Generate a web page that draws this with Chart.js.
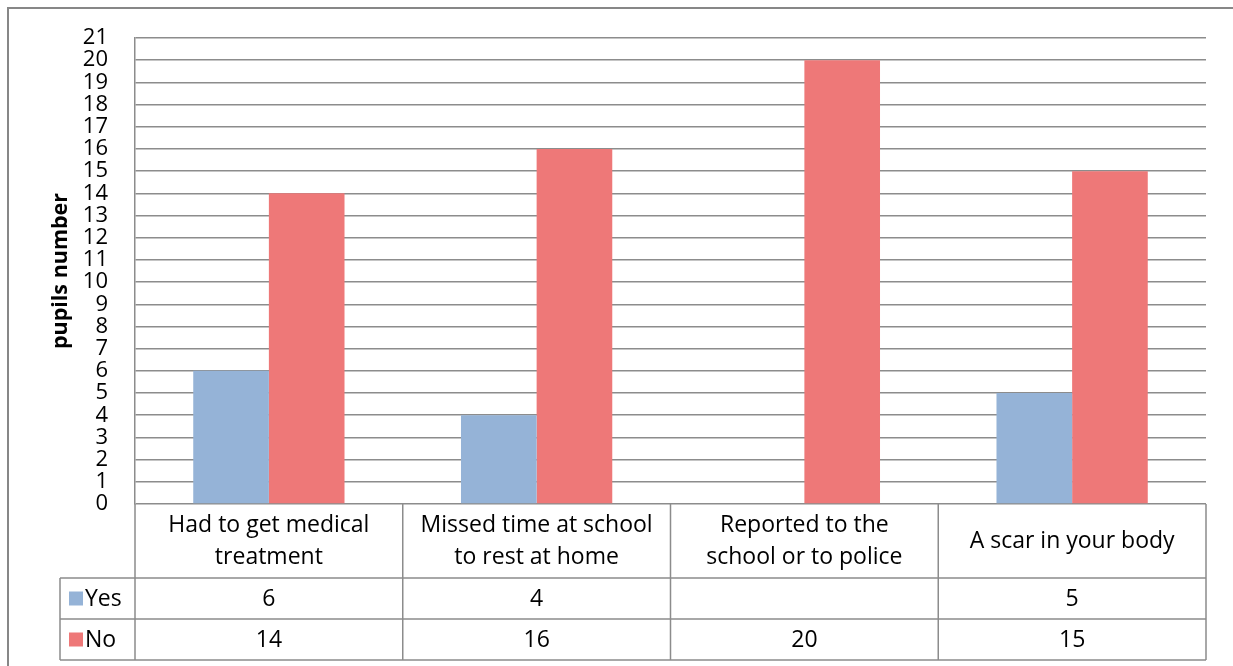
<!DOCTYPE html>
<html>
<head>
<meta charset="utf-8">
<title>pupils number</title>
<script src="https://cdn.jsdelivr.net/npm/chart.js@4.4.1/dist/chart.umd.min.js"></script>
<style>
  html, body { margin: 0; padding: 0; background: #fff; }
  #wrap { width: 1233px; height: 666px; }
</style>
</head>
<body>
<div id="wrap"><canvas id="chart" width="1233" height="666"></canvas></div>
<script>
const categories = [
  ["Had to get medical", "treatment"],
  ["Missed time at school", "to rest at home"],
  ["Reported to the", "school or to police"],
  ["A scar in your body"]
];
const yesValues = [6, 4, null, 5];
const noValues = [14, 16, 20, 15];
const yTicks = [0, 21]; // axis range, step 1

const FONT = '"Open Sans", "DejaVu Sans", sans-serif';
const LINE = "#8c8c8c";
const YES_COLOR = "#95b3d7";
const NO_COLOR = "#ee7878";

// data table under the plot: category names, then one row per series
const dataTable = {
  id: "dataTable",
  afterDraw(chart) {
    const ctx = chart.ctx;
    const area = chart.chartArea;
    const xs = chart.scales.x;
    const colW = area.width / categories.length;
    const catBottom = area.bottom + 74;
    const yesBottom = catBottom + 41;
    const noBottom = yesBottom + 41;
    const legendLeft = 60;

    ctx.save();
    ctx.strokeStyle = LINE;
    ctx.lineWidth = 1.5;
    ctx.beginPath();
    // horizontal rules
    [catBottom, yesBottom, noBottom].forEach(y => {
      ctx.moveTo(legendLeft, y);
      ctx.lineTo(area.right, y);
    });
    // left axis continues down through the table
    ctx.moveTo(area.left, area.bottom);
    ctx.lineTo(area.left, noBottom);
    ctx.moveTo(legendLeft, catBottom);
    ctx.lineTo(legendLeft, noBottom);
    for (let i = 1; i <= categories.length; i++) {
      const x = area.left + i * colW;
      ctx.moveTo(x, area.bottom);
      ctx.lineTo(x, noBottom);
    }
    ctx.stroke();

    ctx.fillStyle = "#000";
    ctx.font = "23px " + FONT;
    ctx.textAlign = "center";
    ctx.textBaseline = "middle";
    const catMid = (area.bottom + catBottom) / 2;
    categories.forEach((lines, i) => {
      const cx = xs.getPixelForValue(i);
      const lh = 32;
      const start = catMid - (lines.length - 1) * lh / 2;
      lines.forEach((t, j) => ctx.fillText(t, cx, start + j * lh));
      const yv = yesValues[i];
      const nv = noValues[i];
      if (yv !== null) ctx.fillText(String(yv), cx, (catBottom + yesBottom) / 2 + 1);
      if (nv !== null) ctx.fillText(String(nv), cx, (yesBottom + noBottom) / 2 + 1);
    });

    // legend keys
    const rows = [
      { label: chart.data.datasets[0].label, color: YES_COLOR, mid: (catBottom + yesBottom) / 2 },
      { label: chart.data.datasets[1].label, color: NO_COLOR, mid: (yesBottom + noBottom) / 2 }
    ];
    ctx.textAlign = "left";
    rows.forEach(r => {
      ctx.fillStyle = r.color;
      ctx.fillRect(69, r.mid - 7, 14, 14);
      ctx.fillStyle = "#000";
      ctx.fillText(r.label, 85, r.mid + 1);
    });

    // outer chart frame
    ctx.strokeStyle = "#878787";
    ctx.lineWidth = 2;
    ctx.strokeRect(8, 8, 1260, 700);
    ctx.restore();
  }
};

new Chart(document.getElementById("chart"), {
  type: "bar",
  data: {
    labels: categories,
    datasets: [
      { label: "Yes", data: yesValues, backgroundColor: YES_COLOR, borderWidth: 0 },
      { label: "No", data: noValues, backgroundColor: NO_COLOR, borderWidth: 0 }
    ]
  },
  options: {
    responsive: false,
    animation: false,
    devicePixelRatio: 1,
    categoryPercentage: 0.565,
    barPercentage: 1,
    layout: { padding: { top: 38, right: 27, bottom: 162, left: 0 } },
    plugins: {
      legend: { display: false },
      tooltip: { enabled: false }
    },
    scales: {
      x: {
        display: false
      },
      y: {
        min: yTicks[0],
        max: yTicks[1],
        afterFit(scale) { scale.width = 135; },
        ticks: {
          stepSize: 1,
          autoSkip: false,
          padding: 27,
          color: "#000",
          font: { family: FONT, size: 22, lineHeight: 1 }
        },
        grid: { color: LINE, lineWidth: 1.5, drawTicks: false },
        border: { color: LINE, width: 1.5 },
        title: {
          display: true,
          text: "pupils number",
          color: "#000",
          padding: { top: 48, bottom: 0 },
          font: { family: FONT, size: 21.5, weight: "bold", lineHeight: 1.2 }
        }
      }
    }
  },
  plugins: [dataTable]
});
</script>
</body>
</html>
